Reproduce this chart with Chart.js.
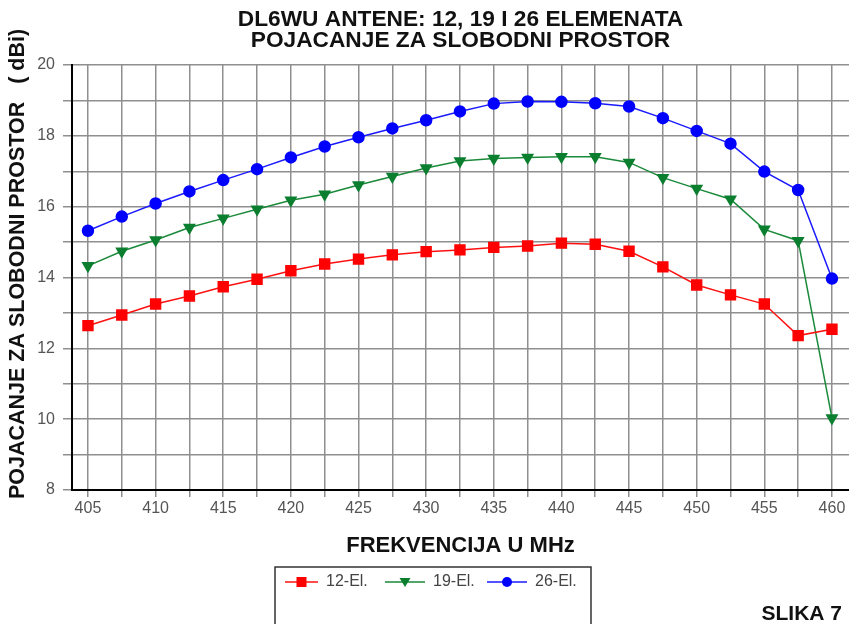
<!DOCTYPE html>
<html>
<head>
<meta charset="utf-8">
<script src="https://cdn.jsdelivr.net/npm/chart.js@4/dist/chart.umd.min.js"></script>
<style>
  html, body { margin: 0; background: #fff; }
  #wrap { width: 849px; height: 624px; }
</style>
</head>
<body>
<div id="wrap"><canvas id="myChart"></canvas></div>
<script>
const freq = [405, 407.5, 410, 412.5, 415, 417.5, 420, 422.5, 425, 427.5, 430, 432.5,
              435, 437.5, 440, 442.5, 445, 447.5, 450, 452.5, 455, 457.5, 460];
const gain12 = [12.64, 12.94, 13.25, 13.48, 13.74, 13.95, 14.19, 14.38, 14.52, 14.64, 14.73, 14.78,
                14.85, 14.89, 14.97, 14.94, 14.74, 14.30, 13.79, 13.51, 13.25, 12.36, 12.54];
const gain19 = [14.33, 14.74, 15.06, 15.41, 15.67, 15.93, 16.18, 16.35, 16.61, 16.85, 17.09, 17.29,
                17.36, 17.39, 17.41, 17.41, 17.25, 16.82, 16.51, 16.21, 15.36, 15.04, 10.03];
const gain26 = [15.32, 15.72, 16.09, 16.43, 16.75, 17.06, 17.39, 17.70, 17.96, 18.21, 18.44, 18.69,
                18.91, 18.97, 18.96, 18.92, 18.83, 18.50, 18.14, 17.78, 16.99, 16.47, 13.97];
const seriesNames = ['12-El.', '19-El.', '26-El.'];

const FONT = "'Liberation Sans', Arial, sans-serif";
const toPoints = arr => arr.map((v, i) => ({ x: freq[i], y: v }));

// y axis title, framed legend under the x title, and the figure caption
const extras = {
  id: 'extras',
  afterDraw(chart) {
    const c = chart.ctx;
    c.save();

    c.save();
    c.translate(18, 264);
    c.rotate(-Math.PI / 2);
    c.fillStyle = '#111';
    c.font = 'bold 21.5px ' + FONT;
    c.textAlign = 'center';
    c.textBaseline = 'middle';
    c.fillText('POJACANJE ZA SLOBODNI PROSTOR   ( dBi)', 0, 0);
    c.restore();

    c.strokeStyle = '#333';
    c.lineWidth = 1.5;
    c.strokeRect(275, 567, 316, 60);

    const items = [
      { line: [285, 318], text: 326 },
      { line: [385, 425], text: 433 },
      { line: [487, 527], text: 535 }
    ];
    const y = 582;
    chart.data.datasets.forEach((ds, i) => {
      const it = items[i];
      c.strokeStyle = ds.borderColor;
      c.lineWidth = 1.5;
      c.beginPath();
      c.moveTo(it.line[0], y);
      c.lineTo(it.line[1], y);
      c.stroke();
      const mx = (it.line[0] + it.line[1]) / 2;
      c.fillStyle = ds.pointBackgroundColor;
      c.beginPath();
      if (ds.pointStyle === 'rect') {
        c.rect(mx - 5, y - 5, 10, 10);
      } else if (ds.pointStyle === 'triangle') {
        c.moveTo(mx - 5.5, y - 4);
        c.lineTo(mx + 5.5, y - 4);
        c.lineTo(mx, y + 5);
        c.closePath();
      } else {
        c.arc(mx, y, 5, 0, Math.PI * 2);
      }
      c.fill();
      c.fillStyle = '#444';
      c.font = '16px ' + FONT;
      c.textBaseline = 'middle';
      c.textAlign = 'left';
      c.fillText(ds.label, it.text, y);
    });

    c.fillStyle = '#111';
    c.font = 'bold 21px ' + FONT;
    c.textAlign = 'right';
    c.textBaseline = 'middle';
    c.fillText('SLIKA 7', 842, 614);
    c.restore();
  }
};

new Chart(document.getElementById('myChart'), {
  type: 'line',
  data: {
    datasets: [{
      label: seriesNames[0],
      data: toPoints(gain12),
      borderColor: '#ff1010',
      pointBackgroundColor: '#ff0000',
      pointBorderColor: '#ff0000',
      pointStyle: 'rect',
      pointRadius: 7,
      borderWidth: 1.5
    }, {
      label: seriesNames[1],
      data: toPoints(gain19),
      borderColor: '#1a8a3a',
      pointBackgroundColor: '#0b7f2f',
      pointBorderColor: '#0b7f2f',
      pointStyle: 'triangle',
      pointRotation: 180,
      pointRadius: 6,
      borderWidth: 1.5
    }, {
      label: seriesNames[2],
      data: toPoints(gain26),
      borderColor: '#1a1aff',
      pointBackgroundColor: '#0000ff',
      pointBorderColor: '#0000ff',
      pointStyle: 'circle',
      pointRadius: 5.5,
      borderWidth: 1.5
    }]
  },
  options: {
    responsive: true,
    maintainAspectRatio: false,
    animation: false,
    layout: { autoPadding: false, padding: { top: 0, right: 0, bottom: 54, left: 0 } },
    plugins: {
      legend: { display: false },
      tooltip: { enabled: false },
      title: {
        display: true,
        fullSize: false,
        text: ['DL6WU ANTENE: 12, 19 I 26 ELEMENATA', 'POJACANJE ZA SLOBODNI PROSTOR'],
        color: '#111',
        font: { family: FONT, size: 22.7, weight: 'bold', lineHeight: 0.93 },
        padding: { top: 9.5, bottom: 13.3 }
      }
    },
    scales: {
      x: {
        type: 'linear',
        min: 403.82,
        max: 461.26,
        afterBuildTicks: s => { s.ticks = freq.map(v => ({ value: v })); },
        afterFit: s => { s.height = 80; s.paddingLeft = 0; s.paddingRight = 0; },
        ticks: {
          callback: v => (v % 5 === 0 ? String(v) : ''),
          color: '#555',
          font: { family: FONT, size: 16 },
          padding: 2,
          maxRotation: 0,
          autoSkip: false
        },
        grid: { color: '#8f8f8f', lineWidth: 1.5, tickLength: 7 },
        border: { color: '#000', width: 2 },
        title: {
          display: true,
          text: 'FREKVENCIJA U MHz',
          color: '#111',
          font: { family: FONT, size: 22, weight: 'bold' },
          padding: { top: 0, bottom: 11 }
        }
      },
      y: {
        min: 8,
        max: 20,
        afterFit: s => { s.width = 72; },
        ticks: {
          stepSize: 1,
          callback: v => (v % 2 === 0 ? String(v) : ''),
          color: '#555',
          font: { family: FONT, size: 16 },
          padding: 8
        },
        grid: { color: '#8f8f8f', lineWidth: 1.5, tickLength: 9 },
        border: { color: '#000', width: 2 }
      }
    }
  },
  plugins: [extras]
});
</script>
</body>
</html>
